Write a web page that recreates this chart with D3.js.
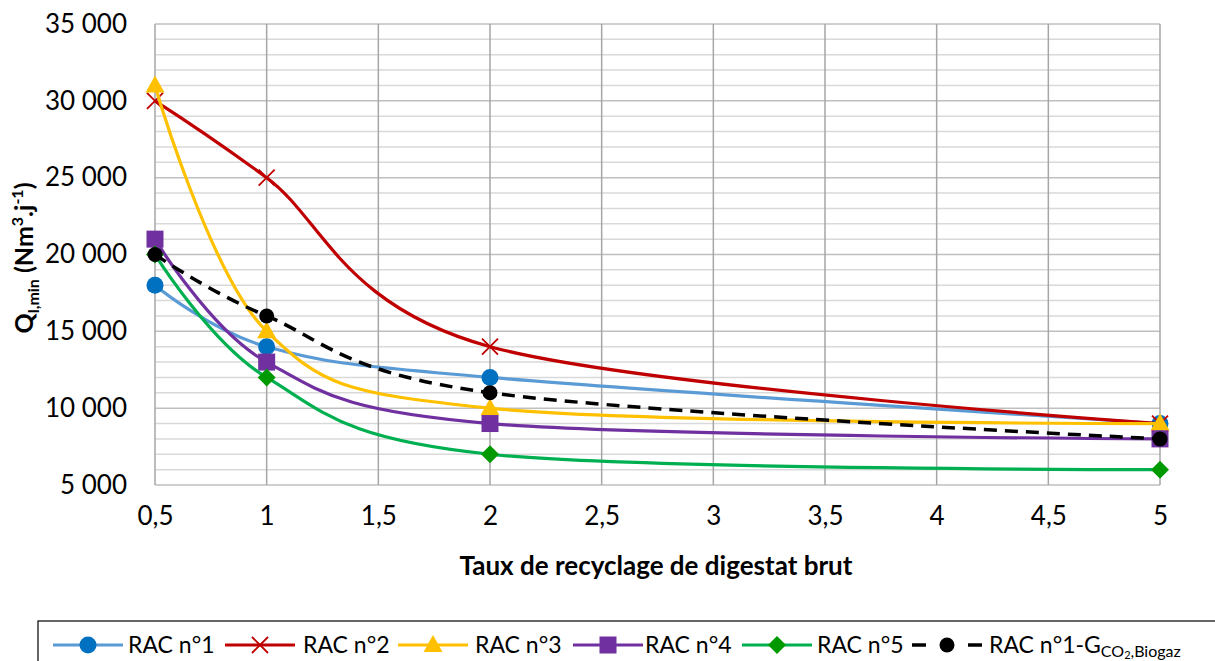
<!DOCTYPE html>
<html><head><meta charset="utf-8">
<script src="https://cdn.jsdelivr.net/npm/d3@7"></script>
<style>body{margin:0;background:#fff;} svg{display:block;font-family:Lato,"Open Sans",sans-serif;}</style>
</head><body><svg id="c" width="1215" height="661"></svg>
<script>
const xValues = [0.5, 1, 2, 5];
const seriesNames = ["RAC n°1","RAC n°2","RAC n°3","RAC n°4","RAC n°5","RAC n°1-G"];
const rac1 = [18000, 14000, 12000, 9000];
const rac2 = [30000, 25000, 14000, 9000];
const rac3 = [31000, 15000, 10000, 9000];
const rac4 = [21000, 13000, 9000, 8000];
const rac5 = [20000, 12000, 7000, 6000];
const rac1g = [20000, 16000, 11000, 8000];
const xTicks = [0.5,1,1.5,2,2.5,3,3.5,4,4.5,5];
const yTicks = [5000,10000,15000,20000,25000,30000,35000];

const styles = [
 {line:"#5B9BD5", mk:"#0070C0", shape:"circle", r:8.5},
 {line:"#C00000", mk:"#C00000", shape:"x"},
 {line:"#FFC000", mk:"#FFC000", shape:"tri"},
 {line:"#7030A0", mk:"#7030A0", shape:"sq"},
 {line:"#00B050", mk:"#009900", shape:"dia"},
 {line:"#000000", mk:"#000000", shape:"circle", r:7.5, dash:"13,8"}
];
const data = [rac1,rac2,rac3,rac4,rac5,rac1g];

const svg = d3.select("#c");
const L=155,R=1160,T=24,B=485;
const x = d3.scaleLinear().domain([0.5,5]).range([L,R]);
const y = d3.scaleLinear().domain([5000,35000]).range([B,T]);
const fmt = v => d3.format(",")(v).replace(/,/g," ");
const fmtx = v => String(v).replace(".",",");

const g = svg.append("g");
d3.range(6000,35000,1000).filter(v=>v%5000!==0).forEach(v=>{
  g.append("line").attr("x1",L).attr("x2",R).attr("y1",y(v)).attr("y2",y(v)).attr("stroke","#D9D9D9").attr("stroke-width",1.5);
});
yTicks.forEach(v=>{
  g.append("line").attr("x1",L).attr("x2",R).attr("y1",y(v)).attr("y2",y(v)).attr("stroke","#BFBFBF").attr("stroke-width",1.5);
});
xTicks.forEach(v=>{
  g.append("line").attr("x1",x(v)).attr("x2",x(v)).attr("y1",T).attr("y2",B).attr("stroke","#A6A6A6").attr("stroke-width",1.5);
});

const yAxis = svg.append("g").attr("transform",`translate(${L},0)`)
  .call(d3.axisLeft(y).tickValues(yTicks).tickFormat(fmt).tickSize(0).tickPadding(28));
yAxis.select(".domain").remove();
yAxis.selectAll("text").attr("font-size",26).attr("fill","#000").attr("font-family","Lato");
const xAxis = svg.append("g").attr("transform",`translate(0,${B})`)
  .call(d3.axisBottom(x).tickValues(xTicks).tickFormat(fmtx).tickSize(0).tickPadding(22));
xAxis.select(".domain").remove();
xAxis.selectAll("text").attr("font-size",26).attr("fill","#000").attr("font-family","Lato");

svg.append("text").attr("x",656).attr("y",575).attr("text-anchor","middle")
  .attr("font-size",26).attr("font-weight","bold").text("Taux de recyclage de digestat brut");

const yt = svg.append("text").attr("transform","translate(33,258) rotate(-90)").attr("text-anchor","middle")
  .attr("font-size",25).attr("font-weight","bold");
yt.append("tspan").text("Q");
yt.append("tspan").attr("font-size",16).attr("dy",6).text("l,min");
yt.append("tspan").attr("dy",-6).text(" (Nm");
yt.append("tspan").attr("font-size",16).attr("dy",-10).text("3");
yt.append("tspan").attr("dy",10).text(".j");
yt.append("tspan").attr("font-size",16).attr("dy",-10).text("-1");
yt.append("tspan").attr("dy",10).text(")");

function marker(sel, st, cx, cy){
  const color = st.mk, shape = st.shape;
  if(shape==="circle") sel.append("circle").attr("cx",cx).attr("cy",cy).attr("r",st.r).attr("fill",color);
  else if(shape==="sq") sel.append("rect").attr("x",cx-8.5).attr("y",cy-8.5).attr("width",17).attr("height",17).attr("fill",color);
  else if(shape==="tri") sel.append("path").attr("d",`M${cx},${cy-10}L${cx+9.5},${cy+7}L${cx-9.5},${cy+7}Z`).attr("fill",color);
  else if(shape==="dia") sel.append("path").attr("d",`M${cx},${cy-9}L${cx+9},${cy}L${cx},${cy+9}L${cx-9},${cy}Z`).attr("fill",color);
  else if(shape==="x") sel.append("path").attr("d",`M${cx-8},${cy-8}L${cx+8},${cy+8}M${cx-8},${cy+8}L${cx+8},${cy-8}`).attr("stroke",color).attr("stroke-width",1.8).attr("fill","none");
}

const line = d3.line().x((d,i)=>x(xValues[i])).y(d=>y(d)).curve(d3.curveCatmullRom.alpha(0));
data.forEach((s,k)=>{
  const st = styles[k];
  const gg = svg.append("g");
  gg.append("path").attr("d",line(s)).attr("fill","none").attr("stroke",st.line)
    .attr("stroke-width",st.dash?3.5:3.2).attr("stroke-dasharray",st.dash||null);
  s.forEach((v,i)=>marker(gg, st, x(xValues[i]), y(v)));
});

// legend
const lg = svg.append("g");
lg.append("rect").attr("x",38).attr("y",621).attr("width",1200).attr("height",60).attr("fill","none").attr("stroke","#000").attr("stroke-width",1.2);
const legX = [53, 225, 398, 573, 742, 912];
const legTextX = [128, 303, 475, 645, 817, 989];
const ly = 645;
styles.forEach((st,k)=>{
  const x0 = legX[k];
  if(st.dash){
    lg.append("line").attr("x1",x0).attr("x2",x0+14).attr("y1",ly).attr("y2",ly).attr("stroke",st.line).attr("stroke-width",3.5);
    lg.append("line").attr("x1",x0+56).attr("x2",x0+70).attr("y1",ly).attr("y2",ly).attr("stroke",st.line).attr("stroke-width",3.5);
  } else {
    lg.append("line").attr("x1",x0).attr("x2",x0+70).attr("y1",ly).attr("y2",ly).attr("stroke",st.line).attr("stroke-width",3);
  }
  marker(lg, st, x0+35, ly);
  const t = lg.append("text").attr("x",legTextX[k]).attr("y",ly+8).attr("font-size",23);
  if(k<5) t.text(seriesNames[k]);
  else { t.append("tspan").text(seriesNames[k]);
    t.append("tspan").attr("font-size",16).attr("dy",4).text("CO");
    t.append("tspan").attr("font-size",11).attr("dy",2).text("2");
    t.append("tspan").attr("font-size",16).attr("dy",-2).text(",Biogaz"); }
});
</script></body></html>
